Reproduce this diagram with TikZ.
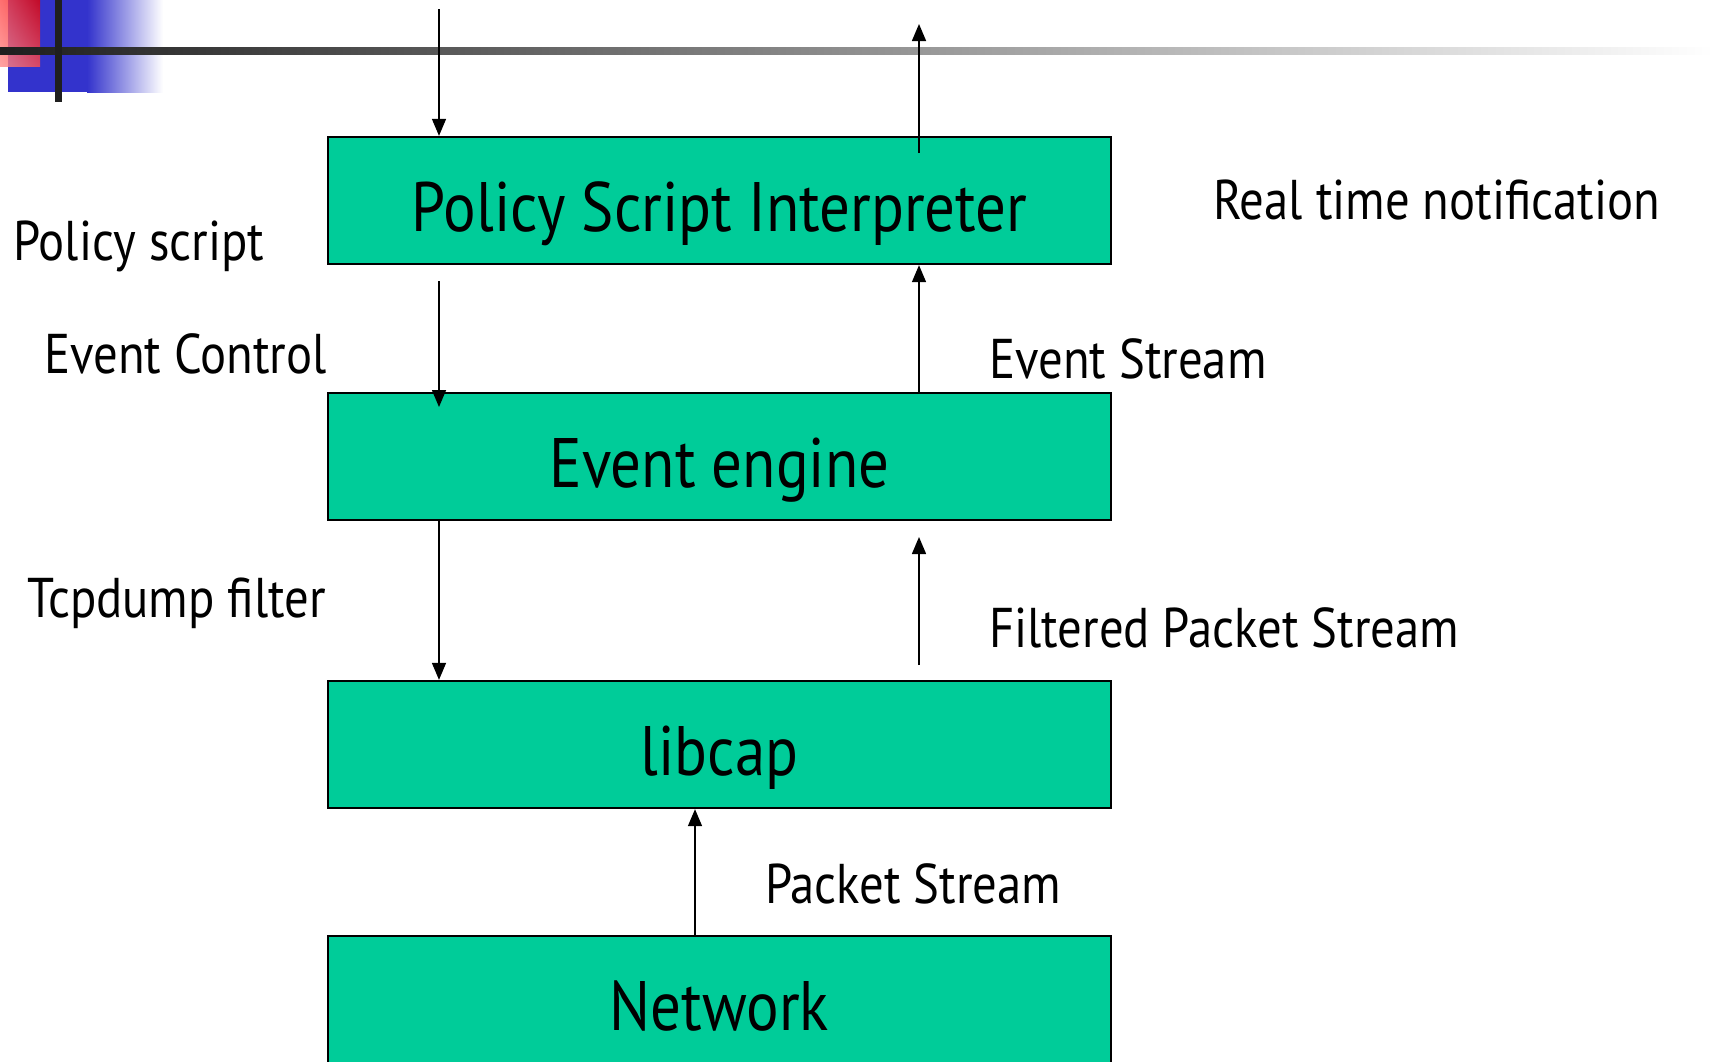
\documentclass[tikz,border=0pt]{standalone}
\usepackage{fontspec}
\newfontfamily\schrift[FakeStretch=0.87]{PT Sans}
\usepackage{tikz}
\usetikzlibrary{
  arrows.meta,
  positioning,
  calc,
  shadings
}
\definecolor{tuerkis}{RGB}{0,204,153}
\definecolor{blaukopf}{RGB}{51,51,204}

\begin{document}
\begin{tikzpicture}[
      x=1pt, y=-1pt,
      >={Triangle[length=17pt,width=14pt]},
      kasten/.style={draw=black, fill=tuerkis, line width=2.3pt, minimum width=783pt, minimum height=127pt, inner sep=0pt, text height=76pt, text depth=15pt, font=\schrift\fontsize{70}{80}\selectfont},
      etikett/.style={anchor=west, inner sep=0pt, font=\schrift\fontsize{56}{62}\selectfont},
      pfeil/.style={->, line width=1.5pt, black}
  ]
      \useasboundingbox (0,0) rectangle (1713,1061);
      \clip (0,0) rectangle (1713,1061);

      % Kopfleiste
      \fill[blaukopf] (8,0) rectangle (88,92);
      \shade[left color=blaukopf, right color=white] (87,0) rectangle (163,92);
      \shade[lower left=red!45, upper right=red!90!black, upper left=red!70, lower right=red!70, opacity=0.8] (0,0) rectangle (40,66);
      \shade[left color=black!88, right color=white] (0,47) rectangle (1713,54);
      \fill[black!88] (55,0) rectangle (62,102);

      % Kaesten
      \node[kasten] (psi) at (719.5,200.5) {Policy Script Interpreter};
      \node[kasten, below=126.7pt of psi] (engine) {Event engine};
      \node[kasten, below=158.7pt of engine] (libcap) {libcap};
      \node[kasten, below=125.7pt of libcap] (net) {Network};

      % freie Enden
      \coordinate (inS) at (439,9);
      \coordinate (ctlS) at (439,281);
      \coordinate (ctlE) at (439,407);
      \coordinate (outS) at (919,153);
      \coordinate (outE) at (919,24);
      \coordinate (fltS) at (919,665);
      \coordinate (fltE) at (919,537);
      \coordinate (pkt) at (695,0);

      % Pfeile
      \draw[pfeil] (inS) -- (inS |- psi.north);
      \draw[pfeil] (ctlS) -- (ctlE);
      \draw[pfeil] (engine.south -| inS) -- (libcap.north -| inS);
      \draw[pfeil] (outS) -- (outE);
      \draw[pfeil] (engine.north -| outS) -- (psi.south -| outS);
      \draw[pfeil] (fltS) -- (fltE);
      \draw[pfeil] (net.north -| pkt) -- (libcap.south -| pkt);

      % Beschriftungen
      \node[etikett] (lpol) at (13,246) {Policy script};
      \node[etikett] (lctl) at (44,354) {Event Control};
      \node[etikett] (ltcp) at (27,603) {Tcpdump filter};
      \node[etikett] (lrt) at (1213,200) {Real time notification};
      \node[etikett] (les) at (989,359) {Event Stream};
      \node[etikett] (lfps) at (989,628) {Filtered Packet Stream};
      \node[etikett] (lps) at (765,884) {Packet Stream};

  \end{tikzpicture}
\end{document}
